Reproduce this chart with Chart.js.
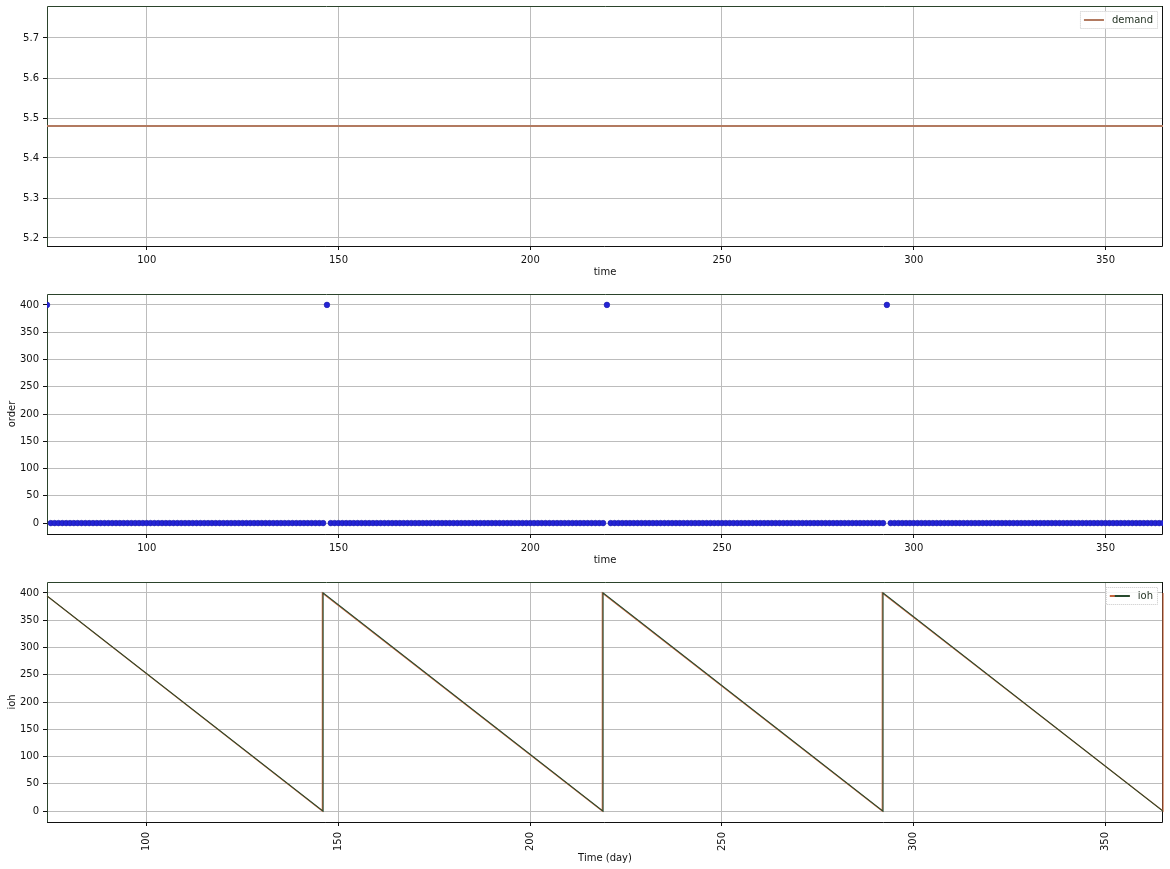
<!DOCTYPE html>
<html><head><meta charset="utf-8">
<script src="https://cdn.jsdelivr.net/npm/chart.js@4.4.0/dist/chart.umd.min.js"></script>
<style>
html,body{margin:0;padding:0;background:#fff;width:1170px;height:869px;overflow:hidden;}
.wrap{position:absolute;left:0;width:1170px;}
canvas{display:block;}
</style></head><body>
<div class="wrap" style="top:0;height:285px"><canvas id="c1" width="1170" height="285"></canvas></div>
<div class="wrap" style="top:285px;height:290px"><canvas id="c2" width="1170" height="290"></canvas></div>
<div class="wrap" style="top:575px;height:294px"><canvas id="c3" width="1170" height="294"></canvas></div>
<script>
// ---------------- data ----------------
const xMin = 74, xMax = 365;
const xTicks = [100, 150, 200, 250, 300, 350];

const demandDays = [74, 365];
const demandValues = [5.48, 5.48];
const demandYTicks = [5.2, 5.3, 5.4, 5.5, 5.6, 5.7];

const orderDays = [
  74,75,76,77,78,79,80,81,82,83,84,85,86,87,88,89,90,91,92,93,
  94,95,96,97,98,99,100,101,102,103,104,105,106,107,108,109,110,111,112,113,
  114,115,116,117,118,119,120,121,122,123,124,125,126,127,128,129,130,131,132,133,
  134,135,136,137,138,139,140,141,142,143,144,145,146,147,148,149,150,151,152,153,
  154,155,156,157,158,159,160,161,162,163,164,165,166,167,168,169,170,171,172,173,
  174,175,176,177,178,179,180,181,182,183,184,185,186,187,188,189,190,191,192,193,
  194,195,196,197,198,199,200,201,202,203,204,205,206,207,208,209,210,211,212,213,
  214,215,216,217,218,219,220,221,222,223,224,225,226,227,228,229,230,231,232,233,
  234,235,236,237,238,239,240,241,242,243,244,245,246,247,248,249,250,251,252,253,
  254,255,256,257,258,259,260,261,262,263,264,265,266,267,268,269,270,271,272,273,
  274,275,276,277,278,279,280,281,282,283,284,285,286,287,288,289,290,291,292,293,
  294,295,296,297,298,299,300,301,302,303,304,305,306,307,308,309,310,311,312,313,
  314,315,316,317,318,319,320,321,322,323,324,325,326,327,328,329,330,331,332,333,
  334,335,336,337,338,339,340,341,342,343,344,345,346,347,348,349,350,351,352,353,
  354,355,356,357,358,359,360,361,362,363,364,365
];
const orderValues = [
  400,0,0,0,0,0,0,0,0,0,0,0,0,0,0,0,0,0,0,0,
  0,0,0,0,0,0,0,0,0,0,0,0,0,0,0,0,0,0,0,0,
  0,0,0,0,0,0,0,0,0,0,0,0,0,0,0,0,0,0,0,0,
  0,0,0,0,0,0,0,0,0,0,0,0,0,400,0,0,0,0,0,0,
  0,0,0,0,0,0,0,0,0,0,0,0,0,0,0,0,0,0,0,0,
  0,0,0,0,0,0,0,0,0,0,0,0,0,0,0,0,0,0,0,0,
  0,0,0,0,0,0,0,0,0,0,0,0,0,0,0,0,0,0,0,0,
  0,0,0,0,0,0,400,0,0,0,0,0,0,0,0,0,0,0,0,0,
  0,0,0,0,0,0,0,0,0,0,0,0,0,0,0,0,0,0,0,0,
  0,0,0,0,0,0,0,0,0,0,0,0,0,0,0,0,0,0,0,0,
  0,0,0,0,0,0,0,0,0,0,0,0,0,0,0,0,0,0,0,400,
  0,0,0,0,0,0,0,0,0,0,0,0,0,0,0,0,0,0,0,0,
  0,0,0,0,0,0,0,0,0,0,0,0,0,0,0,0,0,0,0,0,
  0,0,0,0,0,0,0,0,0,0,0,0,0,0,0,0,0,0,0,0,
  0,0,0,0,0,0,0,0,0,0,0,0
];
const countYTicks = [0, 50, 100, 150, 200, 250, 300, 350, 400];

const iohDays   = [74, 146, 146, 219, 219, 292, 292, 365];
const iohValues = [394.5, 0, 400, 0, 400, 0, 400, 0];
const iohBackDays   = [74, 145.8, 145.8, 218.8, 218.8, 291.8, 291.8, 365, 365];
const iohBackValues = [394.5, 0, 400, 0, 400, 0, 400, 0, 400];

// ---------------- styling ----------------
Chart.defaults.font.family = 'DejaVu Sans';
Chart.defaults.font.size = 10;
Chart.defaults.color = '#111';
Chart.defaults.animation = false;

const GRID = '#bcbcbc';
const BROWN = '#b27a60';
const GREEN = '#274a2e';
const ORANGE = '#c4643c';
const BLUE = '#2424d6';

function pts(xs, ys){ return xs.map((x,i)=>({x:x, y:ys[i]})); }

const framePlugin = {
  id: 'frame',
  beforeDatasetsDraw(chart){
    const {ctx, chartArea:a} = chart;
    ctx.save();
    ctx.lineWidth = 1;
    ctx.strokeStyle = '#2b432b';
    ctx.beginPath();
    ctx.moveTo(a.left+0.5, a.bottom); ctx.lineTo(a.left+0.5, a.top+0.5); ctx.lineTo(a.right, a.top+0.5);
    ctx.stroke();
    ctx.strokeStyle = '#111';
    ctx.beginPath();
    ctx.moveTo(a.left, a.bottom+0.5); ctx.lineTo(a.right-0.5, a.bottom+0.5); ctx.lineTo(a.right-0.5, a.top);
    ctx.stroke();
    ctx.restore();
  }
};

const boxLegend = {
  id: 'boxLegend',
  afterDraw(chart, args, opts){
    if (!opts || !opts.text) return;
    const {ctx, chartArea:a} = chart;
    ctx.save();
    ctx.font = '10px "DejaVu Sans"';
    const tw = ctx.measureText(opts.text).width;
    const lineLen = 20, padL = 4, gap = 8, padR = 5, h = 18;
    const w = padL + lineLen + gap + tw + padR;
    const x0 = a.right - 5 - w, y0 = a.top + 5;
    ctx.fillStyle = 'rgba(255,255,255,0.85)';
    ctx.fillRect(x0, y0, w, h);
    ctx.strokeStyle = '#c8c8c8';
    ctx.setLineDash([1,1]);
    ctx.lineWidth = 1;
    ctx.strokeRect(x0+0.5, y0+0.5, w-1, h-1);
    ctx.setLineDash([]);
    const ly = y0 + h/2;
    (opts.colors || []).forEach(c => {
      ctx.strokeStyle = c.color; ctx.lineWidth = c.width;
      ctx.beginPath(); ctx.moveTo(x0+padL+(c.off||0), ly); ctx.lineTo(x0+padL+lineLen, ly); ctx.stroke();
    });
    ctx.fillStyle = '#1e2e1e';
    ctx.textBaseline = 'middle';
    ctx.fillText(opts.text, x0+padL+lineLen+gap, ly+0.5);
    ctx.restore();
  }
};

function xScale(title, height, opts){
  opts = opts || {};
  return {
    type: 'linear', min: xMin, max: xMax,
    z: opts.z || 0,
    afterBuildTicks: s => { s.ticks = xTicks.map(v=>({value:v})); },
    afterFit: s => { s.height = height; s.paddingLeft = 0; s.paddingRight = 0; },
    grid: { color: GRID, lineWidth: 1, tickLength: 4, tickColor: '#111', drawTicks: true },
    border: { display: false },
    ticks: {
      autoSkip: false, padding: opts.rot ? 6 : 4, color: '#111',
      minRotation: opts.rot || 0, maxRotation: opts.rot || 0,
      font: { size: 10 }
    },
    title: { display: true, text: title, color: '#111', font: { size: 10 }, padding: { top: 0, bottom: opts.tb } }
  };
}
function yScale(min, max, ticks, title, dec, opts){
  opts = opts || {};
  return {
    type: 'linear', min: min, max: max,
    z: opts.z || 0,
    afterBuildTicks: s => { s.ticks = ticks.map(v=>({value:v})); },
    afterFit: s => { s.width = 47; s.paddingTop = 0; s.paddingBottom = 0; },
    grid: { color: GRID, lineWidth: 1, tickLength: 4, tickColor: '#111', drawTicks: true },
    border: { display: false },
    ticks: { padding: 4, color: '#111', font: { size: 10 }, callback: v => Number(v).toFixed(dec) },
    title: { display: !!title, text: title || '', color: '#111', font: { size: 10 }, padding: { top: 6, bottom: 0 } }
  };
}

// ---------------- chart 1: demand ----------------
new Chart(document.getElementById('c1'), {
  type: 'line',
  data: { datasets: [{
    label: 'demand', data: pts(demandDays, demandValues),
    borderColor: BROWN, borderWidth: 2, pointRadius: 0, tension: 0
  }]},
  options: {
    responsive: false, devicePixelRatio: 1,
    layout: { padding: { top: 6, right: 7, left: 0, bottom: 0 } },
    plugins: { legend: { display: false }, tooltip: { enabled: false },
      boxLegend: { text: 'demand', colors: [{color: BROWN, width: 2}] } },
    scales: { x: xScale('time', 39, {tb: 7}), y: yScale(5.18, 5.78, demandYTicks, '', 1) }
  },
  plugins: [boxLegend, framePlugin]
});

// ---------------- chart 2: order ----------------
new Chart(document.getElementById('c2'), {
  type: 'scatter',
  data: { datasets: [{
    label: 'order', data: pts(orderDays, orderValues),
    backgroundColor: BLUE, borderColor: '#1a1aa8', borderWidth: 0.6,
    pointRadius: 2.8, showLine: false, clip: 0
  }]},
  options: {
    responsive: false, devicePixelRatio: 1,
    layout: { padding: { top: 9, right: 7, left: 0, bottom: 0 } },
    plugins: { legend: { display: false }, tooltip: { enabled: false } },
    scales: { x: xScale('time', 41, {tb: 9, z: 1}), y: yScale(-20, 420, countYTicks, 'order', 0, {z: 1}) }
  },
  plugins: [framePlugin]
});

// ---------------- chart 3: ioh ----------------
new Chart(document.getElementById('c3'), {
  type: 'line',
  data: { datasets: [
    { label: 'ioh (back)', data: pts(iohBackDays, iohBackValues), order: 2,
      borderColor: ORANGE, borderWidth: 1.2, pointRadius: 0, tension: 0, clip: 2 },
    { label: 'ioh', data: pts(iohDays, iohValues), order: 1,
      borderColor: GREEN, borderWidth: 1.1, pointRadius: 0, tension: 0 }
  ]},
  options: {
    responsive: false, devicePixelRatio: 1,
    layout: { padding: { top: 7, right: 7, left: 0, bottom: 0 } },
    plugins: { legend: { display: false }, tooltip: { enabled: false },
      boxLegend: { text: 'ioh', colors: [{color: ORANGE, width: 2}, {color: GREEN, width: 2, off: 5}] } },
    scales: { x: xScale('Time (day)', 47, {tb: 5, rot: 90}), y: yScale(-20, 420, countYTicks, 'ioh', 0) }
  },
  plugins: [boxLegend, framePlugin]
});
</script>
</body></html>
